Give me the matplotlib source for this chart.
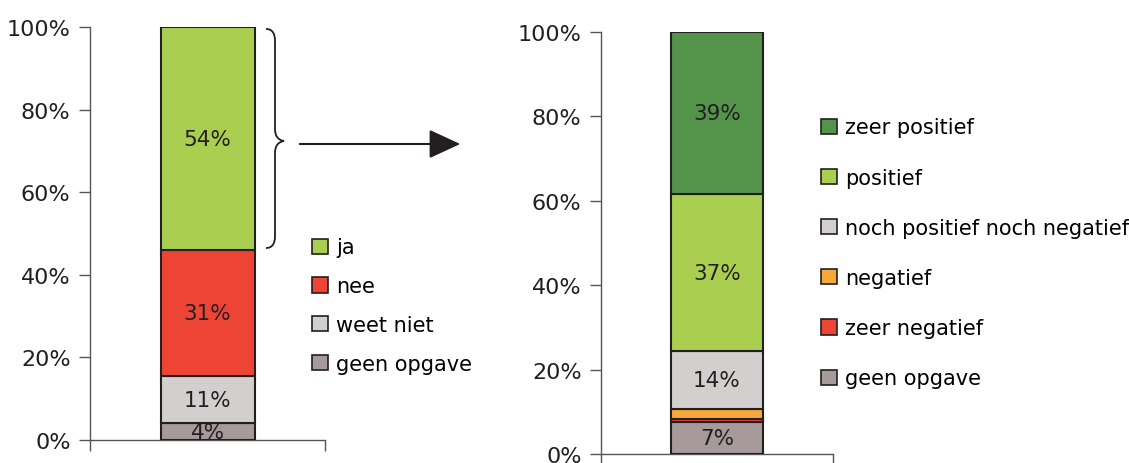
import matplotlib.pyplot as plt
from matplotlib.patches import Patch, FancyArrowPatch, PathPatch
from matplotlib.path import Path

plt.rcParams['font.family'] = ['DejaVu Sans']

# linker balk: wil men het?
links_labels = ["geen opgave", "weet niet", "nee", "ja"]
links_waarden = [4.1, 11.4, 30.5, 54.0]
links_tekst = ["4%", "11%", "31%", "54%"]
links_kleuren = ["#A69A9A", "#D3CFCF", "#EE4435", "#AACF50"]

# rechter balk: oordeel van de 'ja'-groep
rechts_labels = ["geen opgave", "zeer negatief", "negatief",
                 "noch positief noch negatief", "positief", "zeer positief"]
rechts_waarden = [7.5, 0.8, 2.3, 13.8, 37.2, 38.4]
rechts_tekst = ["7%", "", "", "14%", "37%", "39%"]
rechts_kleuren = ["#A69A9A", "#EE4435", "#F6A83A", "#D3CFCF", "#AACF50", "#54944A"]

W, H = 1129, 464
fig = plt.figure(figsize=(W / 100, H / 100), dpi=100)


def px(x, y):
    # pixelpositie -> figuurcoordinaten
    return (x / W, 1 - y / H)


def maak_as(x0, x1, ytop, ybot):
    return fig.add_axes([x0 / W, 1 - ybot / H, (x1 - x0) / W, (ybot - ytop) / H])


def balk(ax, waarden, teksten, kleuren):
    onder = 0
    for w, t, k in zip(waarden, teksten, kleuren):
        ax.bar(0, w, bottom=onder, width=0.4, color=k, edgecolor="#231F20",
               linewidth=1.5, zorder=3)
        if t:
            ax.text(0, onder + w / 2, t, ha="center", va="center",
                    fontsize=15.5, color="#231F20", zorder=4)
        onder += w
    ax.set_xlim(-0.5, 0.5)
    ax.set_ylim(0, 100)
    ax.set_yticks(range(0, 101, 20))
    ax.set_yticklabels([f"{v}%" for v in range(0, 101, 20)], fontsize=16, color="#231F20")
    ax.set_xticks([-0.5, 0.5])
    ax.set_xticklabels([])
    ax.tick_params(axis="y", length=8, width=1, color="#555555", pad=6)
    ax.tick_params(axis="x", direction="out", length=8, width=1, color="#555555")
    for s in ["top", "right"]:
        ax.spines[s].set_visible(False)
    for s in ["left", "bottom"]:
        ax.spines[s].set_color("#555555")
        ax.spines[s].set_linewidth(1)
    ax.patch.set_alpha(0)


ax1 = maak_as(90, 325, 28, 441)
balk(ax1, links_waarden, links_tekst, links_kleuren)

ax2 = maak_as(601, 833, 33, 455)
balk(ax2, rechts_waarden, rechts_tekst, rechts_kleuren)

# legenda's
h1 = [Patch(facecolor=k, edgecolor="#231F20", linewidth=1.2) for k in links_kleuren[::-1]]
fig.legend(h1, links_labels[::-1], loc="upper left", bbox_to_anchor=px(302, 228),
           frameon=False, fontsize=15, handlelength=0.75, handleheight=0.75,
           handletextpad=0.4, labelspacing=0.9, borderpad=0)

h2 = [Patch(facecolor=k, edgecolor="#231F20", linewidth=1.2) for k in rechts_kleuren[::-1]]
fig.legend(h2, rechts_labels[::-1], loc="upper left", bbox_to_anchor=px(811, 108),
           frameon=False, fontsize=15, handlelength=0.75, handleheight=0.75,
           handletextpad=0.4, labelspacing=1.45, borderpad=0)

# accolade rond 'ja'
verts = [px(266, 30), px(272, 30), px(275, 34), px(275, 42),
         px(275, 130),
         px(275, 137), px(278, 141), px(284, 142),
         px(278, 143), px(275, 147), px(275, 154),
         px(275, 237),
         px(275, 245), px(272, 249), px(266, 249)]
codes = [Path.MOVETO, Path.CURVE4, Path.CURVE4, Path.CURVE4,
         Path.LINETO,
         Path.CURVE4, Path.CURVE4, Path.CURVE4,
         Path.CURVE4, Path.CURVE4, Path.CURVE4,
         Path.LINETO,
         Path.CURVE4, Path.CURVE4, Path.CURVE4]
fig.add_artist(PathPatch(Path(verts, codes), facecolor="none", edgecolor="#231F20",
                         linewidth=1.3, transform=fig.transFigure))

# pijl
fig.add_artist(FancyArrowPatch(px(297, 145), px(463, 145), transform=fig.transFigure,
                               arrowstyle="-|>,head_length=1.3,head_width=0.6",
                               mutation_scale=15, color="#231F20", linewidth=1.5))

fig.savefig("out.png", dpi=100)
